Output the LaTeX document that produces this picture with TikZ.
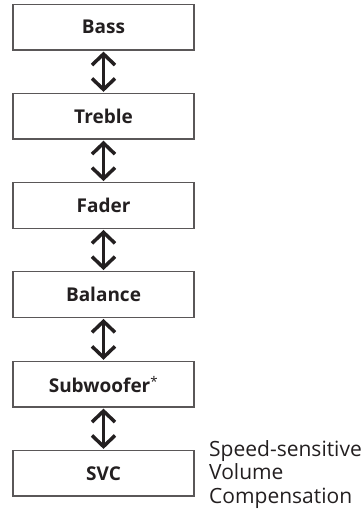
\documentclass[tikz,border=0pt]{standalone}
\usepackage{fontspec}
\setmainfont{Open Sans}
\usetikzlibrary{arrows.meta}
\definecolor{ink}{HTML}{231F20}
\tikzset{
  menubox/.style={draw=ink!75, line width=1.3pt, minimum width=181pt, minimum height=45.5pt, inner sep=0pt, font=\fontsize{19}{22}\selectfont\bfseries, text=ink},
  dblarrow/.style={draw=ink, line width=3.5pt, {Straight Barb[length=11pt,width=23pt,line width=3.5pt]}-{Straight Barb[length=11pt,width=23pt,line width=3.5pt]}, shorten <=1pt, shorten >=1pt},
  sidetext/.style={anchor=base west, inner sep=0pt, font=\fontsize{21}{23}\selectfont, text=ink}
}
\begin{document}
\begin{tikzpicture}[x=1pt,y=1pt]
\useasboundingbox (0,0) rectangle (364,-509);
\node[menubox] (bass) at (103.5,-27.2) {Bass};
\node[menubox] (treble) at (103.5,-116.3) {Treble};
\node[menubox] (fader) at (103.5,-205.5) {Fader};
\node[menubox] (balance) at (103.5,-294.5) {Balance};
\node[menubox] (sub) at (103.5,-384.2) {Subwoofer\textsuperscript{\normalfont *}};
\node[menubox] (svc) at (103.5,-473.3) {SVC};
\draw[dblarrow] (bass.south) -- (treble.north);
\draw[dblarrow] (treble.south) -- (fader.north);
\draw[dblarrow] (fader.south) -- (balance.north);
\draw[dblarrow] (balance.south) -- (sub.north);
\draw[dblarrow] (sub.south) -- (svc.north);
\node[sidetext] (l1) at (209,-456.7) {Speed-sensitive};
\node[sidetext] (l2) at (209,-479.5) {Volume};
\node[sidetext] (l3) at (209,-503) {Compensation};
\end{tikzpicture}
\end{document}
